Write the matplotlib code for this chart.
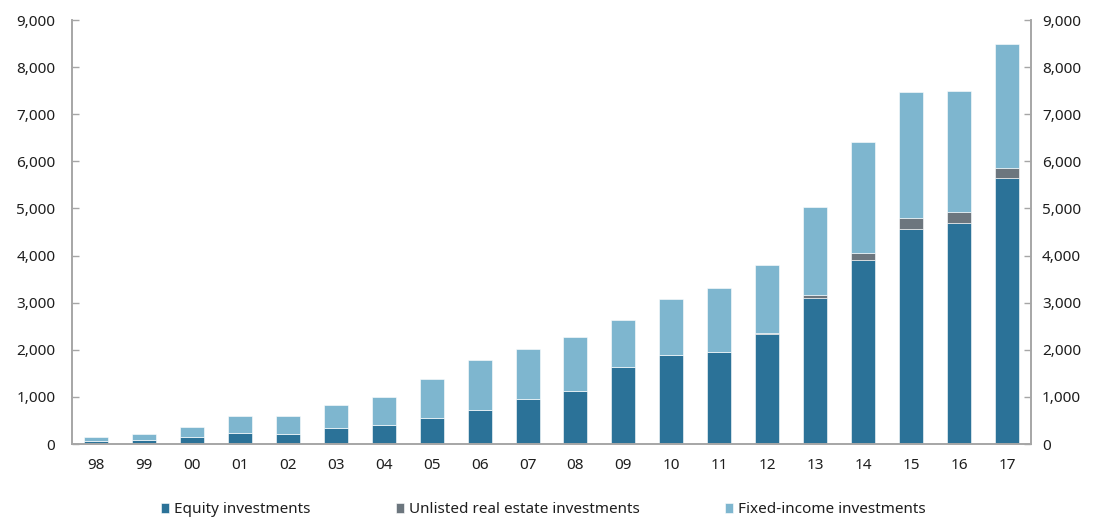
import matplotlib
matplotlib.use("Agg")
import matplotlib.pyplot as plt
from matplotlib.ticker import FuncFormatter, MultipleLocator
import numpy as np

plt.rcParams['font.family'] = ['Noto Sans', 'DejaVu Sans']

years = ["98", "99", "00", "01", "02", "03", "04", "05", "06", "07",
         "08", "09", "10", "11", "12", "13", "14", "15", "16", "17"]
equity = [57, 78, 141, 226, 219, 346, 396, 559, 714, 948,
          1117, 1626, 1881, 1945, 2325, 3089, 3916, 4561, 4688, 5643]
real_estate = [0, 0, 0, 0, 0, 0, 0, 0, 0, 0,
               0, 0, 0, 12, 21, 64, 142, 233, 240, 218]
fixed_income = [99, 134, 227, 375, 385, 488, 608, 827, 1061, 1060,
                1146, 1012, 1188, 1352, 1458, 1874, 2361, 2673, 2573, 2624]

series_names = ["Equity investments", "Unlisted real estate investments",
                "Fixed-income investments"]
colors = ["#2B7298", "#6C767E", "#7EB6CF"]

fig = plt.figure(figsize=(10.95, 5.24), dpi=100)
ax = fig.add_axes([72 / 1095, 80 / 524, (1031 - 72) / 1095, (444 - 20) / 524])

x = np.arange(len(years))
eq = np.array(equity, dtype=float)
re = np.array(real_estate, dtype=float)
fi = np.array(fixed_income, dtype=float)

w = 0.5
ax.bar(x, eq, width=w, color=colors[0], edgecolor="white", linewidth=0.4,
       label=series_names[0], zorder=2)
ax.bar(x, re, width=w, bottom=eq, color=colors[1], edgecolor="white",
       linewidth=0.4, label=series_names[1], zorder=2)
ax.bar(x, fi, width=w, bottom=eq + re, color=colors[2], edgecolor="white",
       linewidth=0.4, label=series_names[2], zorder=2)

ax.set_xlim(-0.5, len(years) - 0.5)
ax.set_ylim(0, 9000)
ax.set_xticks(x)
ax.set_xticklabels(years)

fmt = FuncFormatter(lambda v, p: f"{int(v):,}")
spine_col = "#A6A6A6"
text_col = "#1E1E1E"

# right-hand value axis mirrors the left one
ax2 = ax.twinx()
ax2.set_ylim(ax.get_ylim())

for a in (ax, ax2):
    a.yaxis.set_major_locator(MultipleLocator(1000))
    a.yaxis.set_major_formatter(fmt)
    a.spines["top"].set_visible(False)
    for s in ["left", "right", "bottom"]:
        a.spines[s].set_color(spine_col)
        a.spines[s].set_linewidth(1.2)

ax.tick_params(axis="y", direction="in", length=5, width=1, color=spine_col,
               labelsize=11, labelcolor=text_col, pad=12)
ax2.tick_params(axis="y", direction="in", length=5, width=1, color=spine_col,
                labelsize=11, labelcolor=text_col, pad=8)
ax.tick_params(axis="x", length=0, labelsize=11, labelcolor=text_col, pad=10)

leg = fig.legend(loc="center", bbox_to_anchor=(0.496, 0.027), ncol=3,
                 frameon=False, fontsize=11, handlelength=0.55,
                 handleheight=0.55, handletextpad=0.3, columnspacing=5.6,
                 borderpad=0)
for t in leg.get_texts():
    t.set_color(text_col)

fig.savefig("out.png", dpi=100)
